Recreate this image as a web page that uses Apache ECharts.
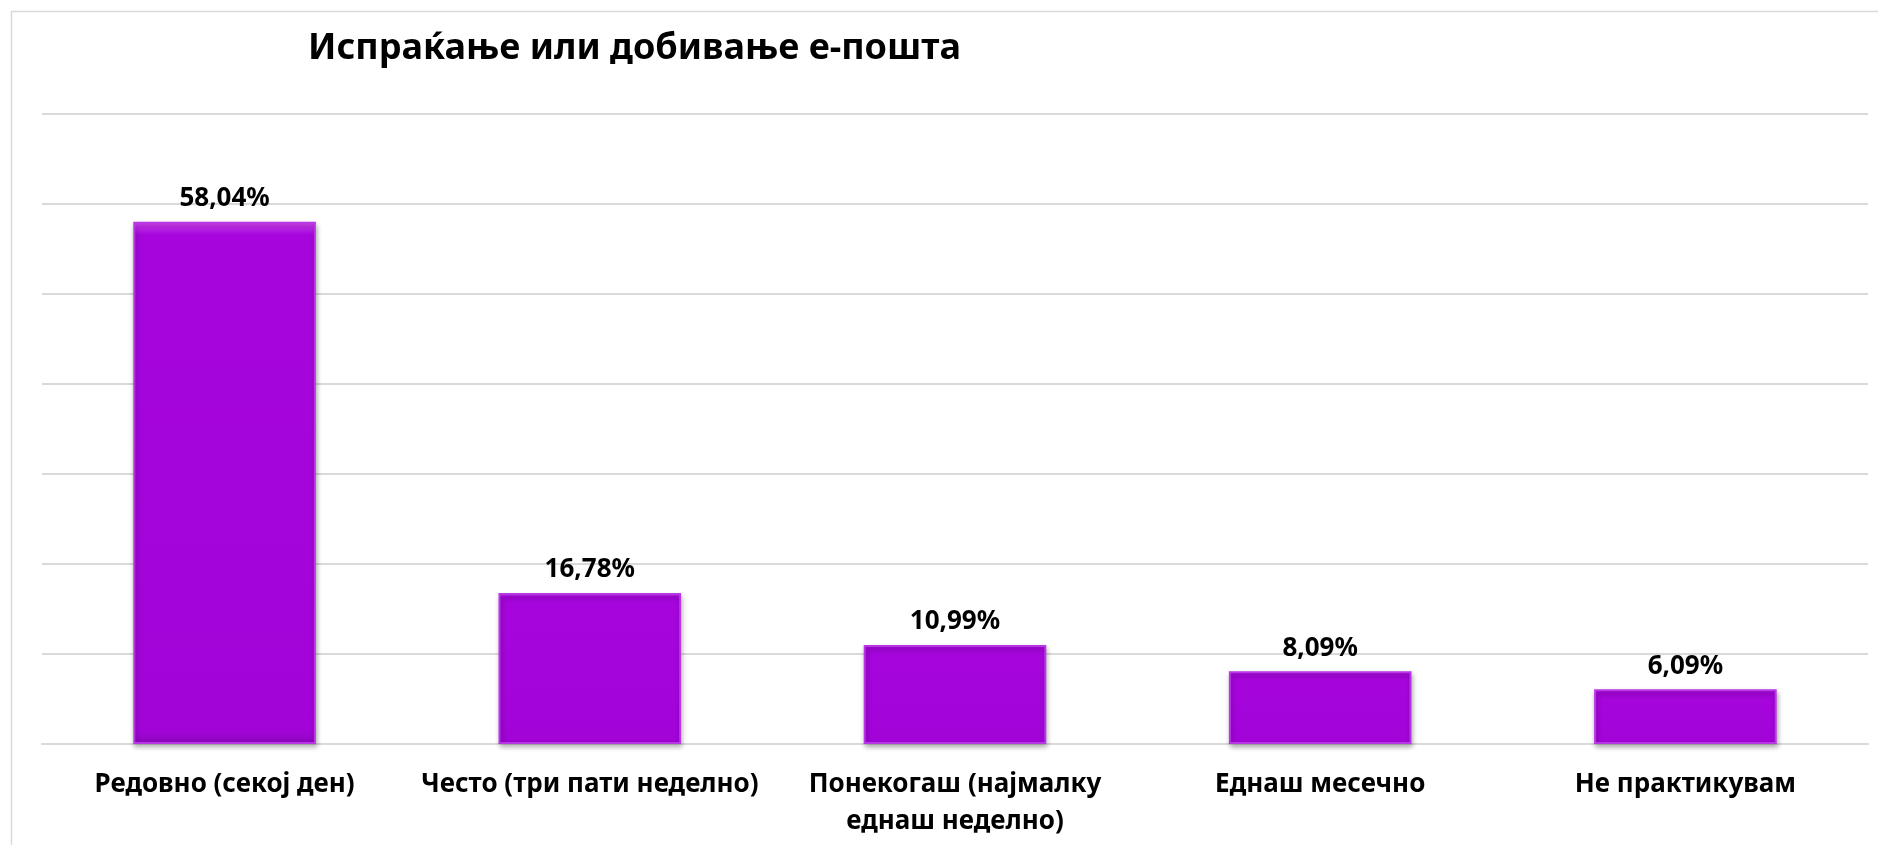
<!DOCTYPE html>
<html>
<head>
<meta charset="utf-8">
<script src="https://cdn.jsdelivr.net/npm/echarts@6/dist/echarts.min.js"></script>
<style>
html,body{margin:0;padding:0;background:#fff;}
#chart{width:1878px;height:845px;}
</style>
</head>
<body>
<div id="chart"></div>
<script>
const titleText = 'Испраќање или добивање е-пошта';
const categories = ['Редовно (секој ден)', 'Често (три пати неделно)', 'Понекогаш (најмалку\nеднаш неделно)', 'Еднаш месечно', 'Не практикувам'];
const values = [58.04, 16.78, 10.99, 8.09, 6.09];
const yTicks = [0, 10, 20, 30, 40, 50, 60, 70];

const FONT = '"Noto Sans", "Open Sans", "DejaVu Sans", sans-serif';
const chart = echarts.init(document.getElementById('chart'), null, {renderer: 'canvas'});
chart.setOption({
  backgroundColor: '#ffffff',
  animation: false,
  graphic: [{
    type: 'rect', left: 9, top: 9, z: -1,
    shape: {width: 1900, height: 900},
    style: {fill: 'none', stroke: '#d9d9d9', lineWidth: 1.5}
  }],
  title: {
    text: titleText, left: 303, top: 26,
    textStyle: {fontFamily: FONT, fontWeight: 'bold', fontSize: 36, color: '#000'}
  },
  grid: {left: 42, right: 10, top: 114, bottom: 101, containLabel: false},
  xAxis: {
    type: 'category', data: categories,
    axisLine: {lineStyle: {color: '#d9d9d9', width: 2}},
    axisTick: {show: false},
    axisLabel: {fontFamily: FONT, fontWeight: 'bold', fontSize: 26, color: '#000', margin: 22, lineHeight: 37, interval: 0}
  },
  yAxis: {
    type: 'value', min: yTicks[0], max: yTicks[yTicks.length - 1], interval: 10,
    axisLabel: {show: false}, axisLine: {show: false}, axisTick: {show: false},
    splitLine: {lineStyle: {color: '#d9d9d9', width: 2}}
  },
  series: [{
    type: 'bar', data: values, barCategoryGap: '50%',
    itemStyle: {
      color: new echarts.graphic.LinearGradient(0, 0, 0, 1, [
        {offset: 0, color: '#d448f5'},
        {offset: 0.025, color: '#a606dc'},
        {offset: 0.975, color: '#a204d8'},
        {offset: 1, color: '#8c06bb'}
      ]),
      borderColor: '#b837e4', borderWidth: 2,
      shadowColor: 'rgba(0,0,0,0.3)', shadowBlur: 5, shadowOffsetX: 1, shadowOffsetY: 3
    },
    label: {
      show: true, position: 'top', distance: 10,
      fontFamily: FONT, fontWeight: 'bold', fontSize: 26, color: '#000',
      formatter: p => p.value.toFixed(2).replace('.', ',') + '%'
    }
  }]
});
</script>
</body>
</html>
